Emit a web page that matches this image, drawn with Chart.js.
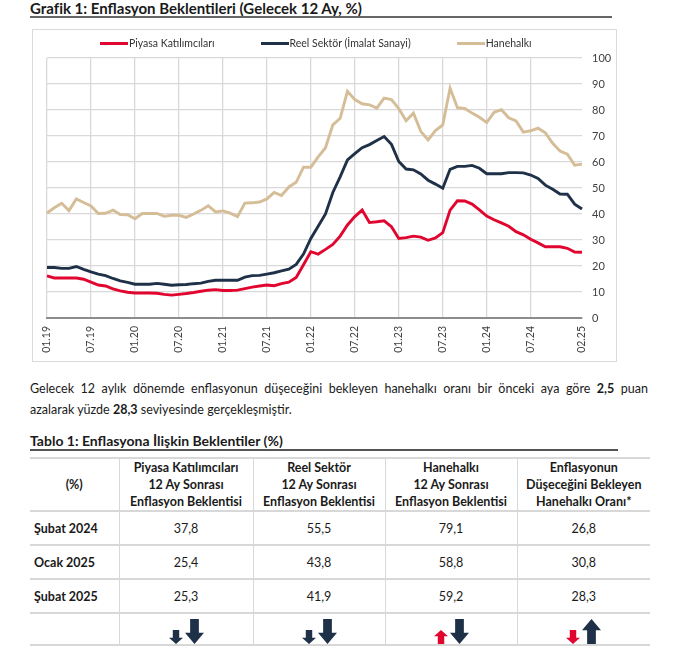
<!DOCTYPE html>
<html lang="tr">
<head>
<meta charset="utf-8">
<script src="https://cdn.jsdelivr.net/npm/chart.js@4.4.1/dist/chart.umd.min.js"></script>
<style>
  body { margin:0; width:680px; height:654px; overflow:hidden; background:#fff;
         font-family: Lato, "Open Sans", sans-serif; color:#1a1a1a; position:relative; }
  .abs { position:absolute; }
  .h { font-weight:700; font-size:14px; line-height:16px; white-space:nowrap; }
  .rule { height:2px; background:#666; }
  #frame { left:32px; top:29px; width:585px; height:333px; box-sizing:border-box; border:1px solid #dadada; }
  #wrap { left:32px; top:29px; width:585px; height:333px; }
  #legend { left:100px; top:36px; display:flex; gap:46px; font-size:10.5px; color:#333; line-height:14px; white-space:nowrap; }
  #legend .sw { display:inline-block; width:28px; height:3px; vertical-align:middle; margin-right:1px; position:relative; top:-1px; }
  #para { left:30px; top:378px; width:618px; font-size:12.5px; line-height:21px; }
  #tbl { left:30px; top:457px; border-collapse:collapse; table-layout:fixed; font-size:12.5px; }
  #tbl td { border-top:2px solid #d8d8d8; border-left:1px solid #d8d8d8; text-align:center; padding:0; }
  #tbl td:first-child { border-left:none; text-align:left; padding-left:4px; font-weight:700; }
  #tbl tr.hd td { font-weight:700; line-height:17px; height:50px; }
  #tbl tr.hd td:first-child { text-align:center; padding-left:0; }
  #tbl tr.dr td { height:32px; }
  #tbl tr.ar td { height:30px; vertical-align:bottom; border-bottom:2px solid #d8d8d8; }
  .arrows { display:flex; justify-content:center; align-items:flex-end; gap:2px; }
  .arrows svg { display:block; }
</style>
</head>
<body>
<div class="abs h" style="left:30px;top:0px;font-size:15px;">Grafik 1: Enflasyon Beklentileri (Gelecek 12 Ay, %)</div>
<div class="abs rule" style="left:30px;top:16px;width:582px;"></div>

<div class="abs" id="frame"></div>
<div class="abs" id="wrap"><canvas id="chart"></canvas></div>
<div class="abs" id="legend"></div>

<div class="abs" id="para">
  <div style="text-align:justify;text-align-last:justify;">Gelecek 12 aylık dönemde enflasyonun düşeceğini bekleyen hanehalkı oranı bir önceki aya göre <b>2,5</b> puan</div>
  <div>azalarak yüzde <b>28,3</b> seviyesinde gerçekleşmiştir.</div>
</div>

<div class="abs h" style="left:30px;top:433px;">Tablo 1: Enflasyona İlişkin Beklentiler (%)</div>
<div class="abs rule" style="left:30px;top:449px;width:588px;background:#555;"></div>

<table class="abs" id="tbl">
  <colgroup><col style="width:89px"><col style="width:134px"><col style="width:132px"><col style="width:132px"><col style="width:133px"></colgroup>
  <tbody id="tbody"></tbody>
</table>

<script>
// ay etiketleri (01.19 - 02.25)
const months = [
  '01.19','02.19','03.19','04.19','05.19','06.19','07.19','08.19','09.19','10.19','11.19','12.19',
  '01.20','02.20','03.20','04.20','05.20','06.20','07.20','08.20','09.20','10.20','11.20','12.20',
  '01.21','02.21','03.21','04.21','05.21','06.21','07.21','08.21','09.21','10.21','11.21','12.21',
  '01.22','02.22','03.22','04.22','05.22','06.22','07.22','08.22','09.22','10.22','11.22','12.22',
  '01.23','02.23','03.23','04.23','05.23','06.23','07.23','08.23','09.23','10.23','11.23','12.23',
  '01.24','02.24','03.24','04.24','05.24','06.24','07.24','08.24','09.24','10.24','11.24','12.24',
  '01.25','02.25'
];
const tickLabels = ['01.19','07.19','01.20','07.20','01.21','07.21','01.22','07.22','01.23','07.23','01.24','07.24','02.25'];

const piyasa = [
  16.2,15.4,15.4,15.4,15.4,14.9,13.8,12.7,12.3,11.2,10.4,9.9,
  9.6,9.6,9.6,9.5,9.1,8.8,9.1,9.4,9.8,10.3,10.7,10.9,
  10.6,10.6,10.7,11.3,11.9,12.3,12.7,12.4,13.2,13.8,15.6,20.5,
  25.5,24.6,26.4,28.3,31.5,35.8,39.0,41.5,36.7,37.0,37.4,35.1,
  30.6,30.9,31.5,31.1,29.9,30.8,32.8,41.5,45.1,45.0,43.8,41.6,
  39.2,37.8,36.6,35.3,33.2,32.0,30.3,28.9,27.4,27.4,27.4,26.8,
  25.4,25.3
];
const reel = [
  19.4,19.4,19.1,19.1,19.8,18.7,17.7,16.9,16.3,15.2,14.3,13.7,
  13.0,13.0,13.0,13.3,13.0,12.6,12.8,12.9,13.2,13.4,14.1,14.5,
  14.5,14.5,14.5,15.7,16.3,16.4,16.9,17.4,18.1,18.8,20.6,24.6,
  30.6,35.3,40.0,48.3,54.3,60.8,63.2,65.5,66.7,68.3,69.8,66.8,
  60.2,57.3,57.0,55.4,53.0,51.5,49.9,57.2,58.3,58.3,58.7,57.6,
  55.5,55.5,55.5,55.9,55.9,55.8,55.0,53.7,51.1,49.5,47.7,47.6,
  43.8,41.9
];
const hanehalki = [
  40.4,42.4,44.1,41.3,45.8,44.4,43.1,40.2,40.3,41.5,39.8,39.7,
  38.2,40.2,40.2,40.2,39.1,39.5,39.5,38.7,40.0,41.4,43.2,40.8,
  41.2,40.3,39.0,44.2,44.3,44.6,45.8,48.3,47.1,50.4,52.2,58.0,
  58.0,62.0,65.5,74.3,76.8,87.2,84.0,82.4,82.0,80.7,84.6,84.0,
  80.5,75.9,78.8,71.8,68.5,72.1,74.3,88.4,80.9,80.6,78.8,77.2,
  75.2,79.1,80.1,77.0,75.8,71.5,72.0,73.0,71.2,67.2,64.2,63.0,
  58.8,59.2
];
const seriesNames = ['Piyasa Katılımcıları', 'Reel Sektör (İmalat Sanayi)', 'Hanehalkı'];
const seriesColors = ['#e1062f', '#1f3148', '#d4bd97'];

// tablo
const tableHead = ['(%)',
  'Piyasa Katılımcıları<br>12 Ay Sonrası<br>Enflasyon Beklentisi',
  'Reel Sektör<br>12 Ay Sonrası<br>Enflasyon Beklentisi',
  'Hanehalkı<br>12 Ay Sonrası<br>Enflasyon Beklentisi',
  'Enflasyonun<br>Düşeceğini Bekleyen<br>Hanehalkı Oranı*'];
const rowNames = ['Şubat 2024', 'Ocak 2025', 'Şubat 2025'];
const subat24 = [37.8, 55.5, 79.1, 26.8];
const ocak25 = [25.4, 43.8, 58.8, 30.8];
const subat25 = [25.3, 41.9, 59.2, 28.3];

const fmt = v => v.toFixed(1).replace('.', ',');

function arrow(up, w, h, color) {
  const s = w * 0.46, hh = h * 0.45, c = w / 2;
  let pts = [[c - s/2, 0], [c + s/2, 0], [c + s/2, h - hh], [w, h - hh], [c, h], [0, h - hh], [c - s/2, h - hh]];
  if (up) pts = pts.map(p => [p[0], h - p[1]]);
  return `<svg width="${w}" height="${h}"><polygon points="${pts.map(p => p.join(',')).join(' ')}" fill="${color}"/></svg>`;
}

const tbody = document.getElementById('tbody');
let html = '<tr class="hd">' + tableHead.map(t => `<td>${t}</td>`).join('') + '</tr>';
[subat24, ocak25, subat25].forEach((row, r) => {
  html += '<tr class="dr"><td>' + rowNames[r] + '</td>' + row.map(v => `<td>${fmt(v)}</td>`).join('') + '</tr>';
});
html += '<tr class="ar"><td></td>';
for (let c = 0; c < 4; c++) {
  // aylık (küçük ok) ve yıllık (büyük ok) değişim; kırmızı = olumsuz
  const mUp = subat25[c] > ocak25[c];
  const yUp = subat25[c] > subat24[c];
  const bad = up => c < 3 ? up : !up;
  html += '<td><div class="arrows">' +
    arrow(mUp, 14, 14, bad(mUp) ? seriesColors[0] : seriesColors[1]) +
    arrow(yUp, 19, 25, bad(yUp) ? seriesColors[0] : seriesColors[1]) +
    '</div></td>';
}
html += '</tr>';
tbody.innerHTML = html;

// lejant
document.getElementById('legend').innerHTML = seriesNames.map((n, i) =>
  `<span><span class="sw" style="background:${seriesColors[i]}"></span>${n}</span>`).join('');

const ctx = document.getElementById('chart').getContext('2d');
const showTick = i => tickLabels.includes(months[i]);

new Chart(ctx, {
  type: 'line',
  data: {
    labels: months,
    datasets: [piyasa, reel, hanehalki].map((d, i) => ({
      label: seriesNames[i],
      data: d,
      borderColor: seriesColors[i],
      backgroundColor: seriesColors[i],
      borderWidth: 2.9,
      pointRadius: 0,
      tension: 0,
      fill: false
    }))
  },
  options: {
    responsive: true,
    maintainAspectRatio: false,
    animation: false,
    layout: { padding: { left: 15, top: 29, right: 0, bottom: 0 } },
    plugins: { legend: { display: false }, tooltip: { enabled: false } },
    scales: {
      x: {
        grid: {
          drawTicks: false,
          lineWidth: 1.3,
          color: c => (showTick(c.index) && c.index < months.length - 1) ? '#d9d9d9' : 'rgba(0,0,0,0)'
        },
        border: { color: '#8c8c8c', width: 2 },
        ticks: {
          autoSkip: false, maxRotation: 90, minRotation: 90, padding: 8,
          color: '#404040', font: { family: 'Lato', size: 10.5 },
          callback: (v, i) => showTick(i) ? months[i] : ''
        },
        afterFit: s => { s.height = 44; }
      },
      y: {
        position: 'right',
        min: 0, max: 100,
        grid: { drawTicks: false, color: '#d9d9d9', lineWidth: 1.3 },
        border: { display: false },
        ticks: { stepSize: 10, padding: 10, color: '#404040', font: { family: 'Lato', size: 11 } },
        afterFit: s => { s.width = 35; }
      }
    }
  }
});
</script>
</body>
</html>
